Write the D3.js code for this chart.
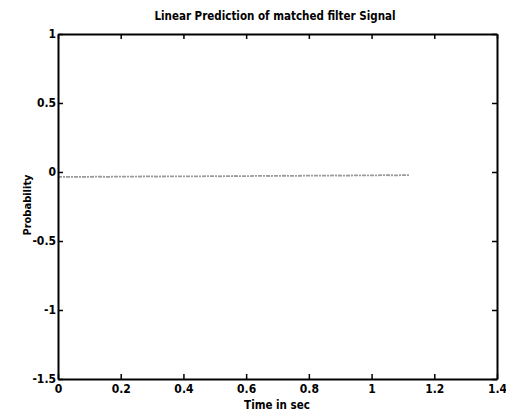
<!DOCTYPE html>
<head>
  <title>Linear Prediction</title>
  <meta charset="utf-8">
  <script src="https://cdn.jsdelivr.net/npm/d3@7"></script>
  <style>
    body { margin: 0; background: #fff; }
    text { font-family: "DejaVu Sans Condensed", "Liberation Sans Narrow", "Liberation Sans", sans-serif; font-weight: bold; fill: #000; }
  </style>
</head>
<body>
<script>
  // signal samples (time in sec, value)
  var times = [0, 0.04, 0.08, 0.12, 0.16, 0.2, 0.24, 0.28, 0.32, 0.36, 0.4, 0.44, 0.48, 0.52, 0.56,
               0.6, 0.64, 0.68, 0.72, 0.76, 0.8, 0.84, 0.88, 0.92, 0.96, 1.0, 1.04, 1.08, 1.12];
  var values = [-0.036, -0.035, -0.036, -0.034, -0.035, -0.033, -0.034, -0.032, -0.033, -0.032, -0.031, -0.032, -0.030, -0.031, -0.029,
                -0.030, -0.028, -0.029, -0.027, -0.028, -0.026, -0.027, -0.025, -0.026, -0.024, -0.025, -0.023, -0.024, -0.022];
  var xTicks = [0, 0.2, 0.4, 0.6, 0.8, 1, 1.2, 1.4];
  var yTicks = [1, 0.5, 0, -0.5, -1, -1.5];

  var W = 506, H = 411;
  var margin = {top: 34, right: 9, bottom: 32, left: 58};

  var svg = d3.select("body").append("svg")
    .attr("width", W).attr("height", H);

  var x = d3.scaleLinear().domain([0, 1.4]).range([margin.left, W - margin.right]);
  var y = d3.scaleLinear().domain([-1.5, 1]).range([H - margin.bottom, margin.top]);

  var fmt = function(d) { return String(d); };

  // data line
  var line = d3.line().x(function(d, i) { return x(times[i]); }).y(function(d) { return y(d); });
  svg.append("path")
    .datum(values)
    .attr("d", line)
    .attr("fill", "none")
    .attr("stroke", "#9a9a9a")
    .attr("stroke-width", 1.8)
    .attr("stroke-dasharray", "4,1,2,1");

  // axes, ticks inward on all four sides
  svg.append("g")
    .attr("transform", "translate(0," + y(-1.5) + ")")
    .call(d3.axisBottom(x).tickValues(xTicks).tickSizeInner(-5).tickSizeOuter(0).tickPadding(5).tickFormat(fmt));
  svg.append("g")
    .attr("transform", "translate(0," + y(1) + ")")
    .call(d3.axisTop(x).tickValues(xTicks).tickSizeInner(-5).tickSizeOuter(0).tickFormat(""));
  svg.append("g")
    .attr("transform", "translate(" + x(0) + ",0)")
    .call(d3.axisLeft(y).tickValues(yTicks).tickSizeInner(-5).tickSizeOuter(0).tickPadding(2).tickFormat(fmt));
  svg.append("g")
    .attr("transform", "translate(" + x(1.4) + ",0)")
    .call(d3.axisRight(y).tickValues(yTicks).tickSizeInner(-5).tickSizeOuter(0).tickFormat(""));

  svg.selectAll(".domain").attr("stroke", "#000").attr("stroke-width", 2);
  svg.selectAll(".tick line").attr("stroke", "#000").attr("stroke-width", 1.5);
  svg.selectAll(".tick text").style("font-size", "12px");

  // titles
  svg.append("text")
    .attr("x", 275).attr("y", 20)
    .attr("text-anchor", "middle")
    .style("font-size", "11.5px")
    .text("Linear Prediction of matched filter Signal");
  svg.append("text")
    .attr("x", 277).attr("y", 409)
    .attr("text-anchor", "middle")
    .style("font-size", "11.5px")
    .text("Time in sec");
  svg.append("text")
    .attr("transform", "translate(31,205) rotate(-90)")
    .attr("text-anchor", "middle")
    .style("font-size", "11px")
    .text("Probability");
</script>
</body>
